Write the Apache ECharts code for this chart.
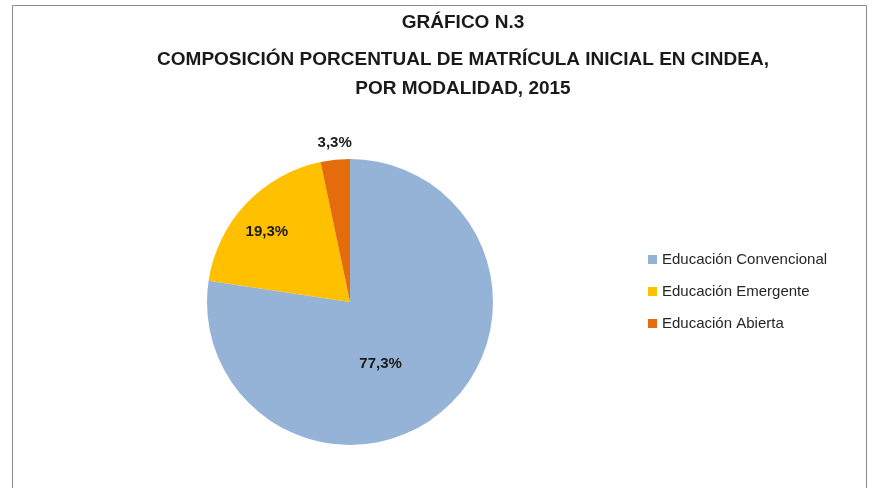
<!DOCTYPE html>
<html lang="es">
<head>
    <meta charset="UTF-8">
    <title>Gráfico N.3</title>
    <script src="https://cdn.jsdelivr.net/npm/echarts@6/dist/echarts.min.js"></script>
    <style>
        html, body { margin: 0; padding: 0; background: #fff; }
        #main { width: 884px; height: 488px; }
    </style>
</head>
<body>
<div id="main"></div>
<script>
    // datos del gráfico
    var categorias = ['Educación Convencional', 'Educación Emergente', 'Educación Abierta'];
    var porcentajes = [77.3, 19.3, 3.3];
    var colores = ['#95B3D7', '#FFC000', '#E46C0A'];
    var tituloLineas = ['GRÁFICO N.3', 'COMPOSICIÓN PORCENTUAL DE MATRÍCULA INICIAL EN CINDEA,', 'POR MODALIDAD, 2015'];

    var myChart = echarts.init(document.getElementById('main'));

    var datos = [];
    for (var i = 0; i < categorias.length; i++) {
        datos.push({ name: categorias[i], value: porcentajes[i], itemStyle: { color: colores[i] } });
    }
    datos[0].label = { offset: [-18, 5] };
    datos[1].label = { offset: [-29, -19] };
    // etiqueta del sector pequeño va por fuera
    datos[2].label = { position: 'outside', offset: [22, -13] };
    datos[2].labelLine = { show: false, length: 4, length2: 0 };

    var estiloTitulo = { fontSize: 19, fontWeight: 'bold', color: '#1a1a1a', lineHeight: 29 };

    var option = {
        animation: false,
        backgroundColor: '#fff',
        textStyle: { fontFamily: 'Liberation Sans' },
        graphic: [{
            type: 'rect',
            shape: { x: 12.5, y: 5.5, width: 854, height: 500 },
            style: { fill: 'none', stroke: '#8c8c8c', lineWidth: 1 },
            silent: true
        }],
        title: [{
            text: tituloLineas[0],
            left: 458,
            top: 3,
            textAlign: 'center',
            textStyle: estiloTitulo
        }, {
            text: tituloLineas.slice(1).join('\n'),
            left: 458,
            top: 40,
            textAlign: 'center',
            textStyle: estiloTitulo
        }],
        legend: {
            orient: 'vertical',
            left: 643,
            top: 247,
            itemWidth: 9,
            itemHeight: 9,
            itemGap: 17,
            icon: 'rect',
            textStyle: { fontSize: 15, color: '#262626' },
            data: categorias
        },
        series: [{
            type: 'pie',
            center: [350, 302],
            radius: 143,
            startAngle: 90,
            clockwise: true,
            emphasis: { disabled: true },
            label: {
                show: true,
                position: 'inside',
                fontSize: 15,
                fontWeight: 'bold',
                color: '#1a1a1a',
                formatter: function (p) {
                    return p.value.toFixed(1).replace('.', ',') + '%';
                }
            },
            labelLine: { show: false },
            data: datos
        }]
    };

    myChart.setOption(option);
</script>
</body>
</html>
